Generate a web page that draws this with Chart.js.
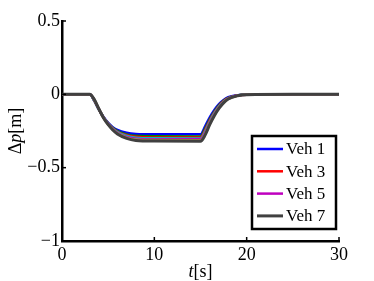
<!DOCTYPE html>
<html>
<head>
<meta charset="utf-8">
<script src="https://cdn.jsdelivr.net/npm/chart.js@4.4.1/dist/chart.umd.min.js"></script>
<style>
  html, body { margin: 0; padding: 0; background: #fff; }
  #wrap { width: 374px; height: 281px; }
</style>
</head>
<body>
<div id="wrap"><canvas id="c"></canvas></div>
<script>
// time samples [s]
var times = [0, 3, 3.5, 4, 4.5, 5, 5.5, 6, 7, 8, 10, 15, 15.5, 16, 16.5, 17, 17.5, 18, 19, 20, 25, 30];

// position error of each vehicle [m]
var veh1 = [0, 0, -0.045, -0.105, -0.155, -0.195, -0.224, -0.243, -0.262, -0.270, -0.273, -0.273, -0.218, -0.157, -0.106, -0.066, -0.038, -0.020, -0.006, -0.001, 0, 0];
var veh2 = [0, 0, -0.043, -0.104, -0.157, -0.198, -0.229, -0.250, -0.273, -0.283, -0.286, -0.287, -0.234, -0.171, -0.118, -0.075, -0.044, -0.024, -0.007, -0.001, 0, 0];
var veh3 = [0, 0, -0.041, -0.103, -0.158, -0.200, -0.232, -0.255, -0.279, -0.290, -0.294, -0.295, -0.244, -0.178, -0.124, -0.079, -0.047, -0.026, -0.008, -0.001, 0, 0];
var veh4 = [0, 0, -0.040, -0.102, -0.158, -0.201, -0.234, -0.258, -0.284, -0.296, -0.300, -0.301, -0.252, -0.185, -0.129, -0.083, -0.050, -0.027, -0.008, -0.001, 0, 0];
var veh5 = [0, 0, -0.038, -0.101, -0.159, -0.203, -0.237, -0.262, -0.290, -0.302, -0.306, -0.307, -0.261, -0.193, -0.135, -0.088, -0.053, -0.029, -0.009, -0.002, 0, 0];
var veh6 = [0, 0, -0.037, -0.100, -0.160, -0.205, -0.240, -0.266, -0.295, -0.308, -0.312, -0.313, -0.269, -0.199, -0.140, -0.092, -0.055, -0.031, -0.010, -0.002, 0, 0];
var veh7 = [0, 0, -0.035, -0.100, -0.161, -0.207, -0.243, -0.270, -0.300, -0.314, -0.319, -0.320, -0.278, -0.207, -0.146, -0.096, -0.058, -0.032, -0.010, -0.002, 0, 0];

var vehLabels = ['Veh 1', 'Veh 2', 'Veh 3', 'Veh 4', 'Veh 5', 'Veh 6', 'Veh 7'];
var vehColors = ['#0000ff', '#008000', '#ff0000', '#00bfbf', '#bf00bf', '#9f9f40', '#404040'];
var vehWidths = [2.5, 2.5, 2.5, 2.5, 2.5, 2.5, 3];
var legendShown = ['Veh 1', 'Veh 3', 'Veh 5', 'Veh 7'];

var xTicks = [0, 10, 20, 30];
var yTicks = [0.5, 0, -0.5, -1];

var serif = '"Liberation Serif", "Times New Roman", serif';

var series = [veh1, veh2, veh3, veh4, veh5, veh6, veh7];
var datasets = series.map(function (vals, i) {
  return {
    label: vehLabels[i],
    data: vals.map(function (v, k) { return { x: times[k], y: v }; }),
    borderColor: vehColors[i],
    backgroundColor: vehColors[i],
    borderWidth: vehWidths[i],
    pointRadius: 0,
    cubicInterpolationMode: 'monotone',
    fill: false,
    order: series.length - i   // later vehicles drawn on top
  };
});

function fmt(v) {
  if (v === 0) return '0';
  return (v < 0 ? '\u2212' : '') + Math.abs(v);
}

// inward ticks, tick labels, axis titles and boxed legend
var decor = {
  id: 'decor',
  afterDraw: function (chart) {
    var ctx = chart.ctx, a = chart.chartArea;
    var xs = chart.scales.x, ys = chart.scales.y;
    ctx.save();
    ctx.strokeStyle = '#000';
    ctx.fillStyle = '#000';
    ctx.lineWidth = 1.5;
    ctx.font = '18px ' + serif;

    ctx.textAlign = 'center';
    ctx.textBaseline = 'middle';
    xTicks.forEach(function (t) {
      var px = xs.getPixelForValue(t);
      ctx.beginPath(); ctx.moveTo(px, a.bottom); ctx.lineTo(px, a.bottom - 4); ctx.stroke();
      ctx.fillText(fmt(t), px, a.bottom + 14);
    });
    ctx.textAlign = 'right';
    yTicks.forEach(function (t) {
      var py = ys.getPixelForValue(t);
      ctx.beginPath(); ctx.moveTo(a.left, py); ctx.lineTo(a.left + 4, py); ctx.stroke();
      ctx.fillText(fmt(t), a.left - 2, py);
    });

    // x title: t[s]
    ctx.textAlign = 'left';
    ctx.textBaseline = 'alphabetic';
    var f1 = 'italic 18px ' + serif, f2 = '18px ' + serif;
    ctx.font = f1; var w1 = ctx.measureText('t').width;
    ctx.font = f2; var w2 = ctx.measureText('[s]').width;
    var cx = (a.left + a.right) / 2 - (w1 + w2) / 2;
    ctx.font = f1; ctx.fillText('t', cx, 277);
    ctx.font = f2; ctx.fillText('[s]', cx + w1, 277);

    // y title: Δp[m]
    ctx.save();
    ctx.translate(21, (a.top + a.bottom) / 2);
    ctx.rotate(-Math.PI / 2);
    ctx.font = f2; var d1 = ctx.measureText('\u0394').width, d3 = ctx.measureText('[m]').width;
    ctx.font = f1; var d2 = ctx.measureText('p').width;
    var sx = -(d1 + d2 + d3) / 2;
    ctx.font = f2; ctx.fillText('\u0394', sx, 0);
    ctx.font = f1; ctx.fillText('p', sx + d1, 0);
    ctx.font = f2; ctx.fillText('[m]', sx + d1 + d2, 0);
    ctx.restore();

    // legend box
    var bx = 252, by = 136, bw = 84, bh = 93;
    ctx.fillStyle = '#fff';
    ctx.fillRect(bx, by, bw, bh);
    ctx.lineWidth = 2.5;
    ctx.strokeStyle = '#000';
    ctx.strokeRect(bx, by, bw, bh);
    ctx.font = '17px ' + serif;
    ctx.textBaseline = 'middle';
    legendShown.forEach(function (name, k) {
      var i = vehLabels.indexOf(name);
      var ly = by + 13 + k * 22.3;
      ctx.strokeStyle = vehColors[i];
      ctx.lineWidth = vehWidths[i];
      ctx.beginPath(); ctx.moveTo(bx + 5, ly); ctx.lineTo(bx + 31, ly); ctx.stroke();
      ctx.fillStyle = '#000';
      ctx.fillText(name, bx + 34, ly + 1);
    });
    ctx.restore();
  }
};

new Chart(document.getElementById('c'), {
  type: 'line',
  data: { datasets: datasets },
  options: {
    responsive: true,
    maintainAspectRatio: false,
    devicePixelRatio: 1,
    animation: false,
    layout: { padding: { top: 21, right: 35, left: 0, bottom: 0 } },
    plugins: { legend: { display: false }, tooltip: { enabled: false } },
    scales: {
      x: {
        type: 'linear',
        min: 0, max: 30,
        afterBuildTicks: function (s) { s.ticks = xTicks.map(function (v) { return { value: v }; }); },
        afterFit: function (s) { s.height = 40; },
        grid: { display: false },
        border: { display: true, color: '#000', width: 2.5 },
        ticks: { display: false }
      },
      y: {
        type: 'linear',
        min: -1, max: 0.5,
        afterBuildTicks: function (s) { s.ticks = yTicks.map(function (v) { return { value: v }; }); },
        afterFit: function (s) { s.width = 62; },
        grid: { display: false },
        border: { display: true, color: '#000', width: 2.5 },
        ticks: { display: false }
      }
    }
  },
  plugins: [decor]
});
</script>
</body>
</html>
